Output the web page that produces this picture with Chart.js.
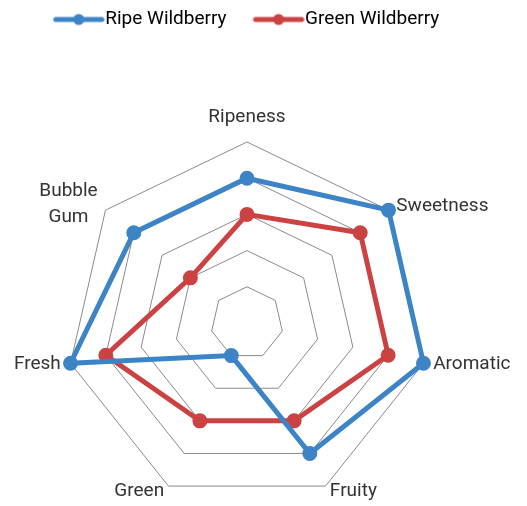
<!DOCTYPE html>
<html>
<head>
<meta charset="utf-8">
<script src="https://cdn.jsdelivr.net/npm/chart.js@4/dist/chart.umd.min.js"></script>
<style>
  html, body { margin: 0; padding: 0; background: #fff; }
  #wrap { width: 527px; height: 506px; }
</style>
</head>
<body>
<div id="wrap"><canvas id="flavorChart"></canvas></div>
<script>
const categories = ["Ripeness", "Sweetness", "Aromatic", "Fruity", "Green", "Fresh", ["Bubble", "Gum"]];
const ripeValues = [80, 100, 100, 80, 20, 100, 80];
const greenValues = [60, 80, 80, 60, 60, 80, 40];
const seriesNames = ["Ripe Wildberry", "Green Wildberry"];
const blue = "#3d84c6";
const red = "#cc4242";
const labelFont = "19px Roboto";

// legend marker: a short line with a dot in the middle
function legendMarker(color) {
  const c = document.createElement("canvas");
  c.width = 54; c.height = 14;
  const g = c.getContext("2d");
  g.strokeStyle = color; g.lineWidth = 5; g.lineCap = "round";
  g.beginPath(); g.moveTo(5, 7); g.lineTo(51, 7); g.stroke();
  g.fillStyle = color;
  g.beginPath(); g.arc(28, 7, 5.5, 0, Math.PI * 2); g.fill();
  return c;
}

// axis labels drawn next to each outer vertex of the radial scale
const axisLabels = {
  id: "axisLabels",
  beforeDatasetsDraw(chart) {
    const r = chart.scales.r;
    const g = chart.ctx;
    g.save();
    g.font = labelFont;
    g.fillStyle = "#333";
    g.textBaseline = "middle";
    categories.forEach((lab, i) => {
      const lines = Array.isArray(lab) ? lab : [lab];
      const v = r.getPointPosition(i, r.drawingArea);
      const dx = (v.x - r.xCenter) / r.drawingArea;
      const dy = (v.y - r.yCenter) / r.drawingArea;
      let x = v.x + dx * 10;
      let y = v.y + dy * 6;
      if (Math.abs(dx) < 0.05) {
        g.textAlign = "center";
        y = v.y - 25;
      } else if (lines.length > 1) {
        g.textAlign = "center";
        const w = Math.max(...lines.map(t => g.measureText(t).width));
        x += dx > 0 ? w / 2 : -w / 2;
        y -= 2;
      } else {
        g.textAlign = dx > 0 ? "left" : "right";
      }
      const lh = 26;
      lines.forEach((t, k) => g.fillText(t, x, y + (k - (lines.length - 1) / 2) * lh));
    });
    g.restore();
  }
};

const ctx = document.getElementById("flavorChart").getContext("2d");
new Chart(ctx, {
  type: "radar",
  data: {
    labels: categories,
    datasets: [
      { label: seriesNames[0], data: ripeValues, borderColor: blue, backgroundColor: blue,
        pointBackgroundColor: blue, borderWidth: 5, pointRadius: 5, fill: false },
      { label: seriesNames[1], data: greenValues, borderColor: red, backgroundColor: red,
        pointBackgroundColor: red, borderWidth: 5, pointRadius: 5, fill: false }
    ]
  },
  options: {
    responsive: true,
    maintainAspectRatio: false,
    animation: false,
    layout: { padding: { top: 0, left: 66, right: 99, bottom: 1 } },
    scales: {
      r: {
        min: 0, max: 100,
        ticks: { stepSize: 20, display: false },
        angleLines: { display: false },
        grid: { color: "#8a8a8a", lineWidth: 1 },
        pointLabels: { display: false }
      }
    },
    plugins: {
      legend: {
        position: "top",
        labels: {
          usePointStyle: true,
          pointStyleWidth: 36,
          font: { family: "Roboto", size: 19 },
          color: "#333",
          padding: 33,
          generateLabels(chart) {
            return chart.data.datasets.map((ds, i) => ({
              text: ds.label, fillStyle: ds.borderColor, strokeStyle: ds.borderColor,
              lineWidth: 0, pointStyle: legendMarker(ds.borderColor), datasetIndex: i, hidden: false
            }));
          }
        }
      },
      tooltip: { enabled: false }
    }
  },
  plugins: [axisLabels, {
    id: "legendPlace",
    beforeInit(chart) {
      const fit = chart.legend.fit;
      chart.legend.fit = function () {
        this.maxWidth = 527;
        fit.call(this);
        this.height = 142;
      };
    },
    afterLayout(chart) {
      const lg = chart.legend;
      lg.left = -14;
      lg.right = 513;
      lg.top = -23;
    }
  }]
});
</script>
</body>
</html>
